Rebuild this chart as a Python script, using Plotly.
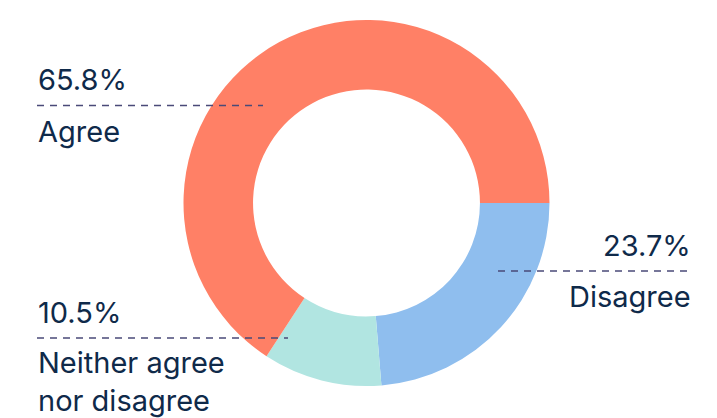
import plotly.graph_objects as go

# Survey responses
labels = ["Disagree", "Neither agree nor disagree", "Agree"]
values = [23.7, 10.5, 65.8]
colors = ["#8FBEEE", "#B1E5E1", "#FF8066"]

W, H = 717, 418
TEXT = "#0F2A4A"
DASH = "#4A4A78"
FONT = "Inter"
SIZE = 29


def px(x):
    return x / W


def py(y):
    return 1 - y / H


fig = go.Figure(
    go.Pie(
        labels=labels,
        values=values,
        marker=dict(colors=colors, line=dict(width=0)),
        hole=0.62,
        sort=False,
        direction="clockwise",
        rotation=90,
        textinfo="none",
        hoverinfo="label+percent",
        domain=dict(x=[px(183.5), px(549.5)], y=[py(386), py(20)]),
        showlegend=False,
    )
)

# Callouts: (percent text, label text, x, align, percent centre y, line y, label centre y, line x0, line x1)
callouts = [
    ("65.8%", "Agree", 36, "left", 79, 105.5, 131, 37, 263),
    ("23.7%", "Disagree", 693, "right", 245, 271, 296, 498, 693),
    ("10.5%", "Neither agree<br>nor disagree", 36, "left", 312, 338, 381, 37, 288),
]

annotations = []
shapes = []
for pct, lab, x, align, yp, yl, ylab, x0, x1 in callouts:
    annotations.append(dict(
        text=pct, x=px(x), y=py(yp), xref="paper", yref="paper",
        xanchor=align, yanchor="middle", align=align, showarrow=False,
        font=dict(family=FONT, size=SIZE, color=TEXT),
    ))
    annotations.append(dict(
        text=lab, x=px(x), y=py(ylab), xref="paper", yref="paper",
        xanchor=align, yanchor="middle", align=align, showarrow=False,
        font=dict(family=FONT, size=SIZE, color=TEXT),
    ))
    shapes.append(dict(
        type="line", xref="paper", yref="paper",
        x0=px(x0), x1=px(x1), y0=py(yl), y1=py(yl),
        line=dict(color=DASH, width=1.5, dash="7px,6px"),
    ))

fig.update_layout(
    width=W, height=H,
    margin=dict(l=0, r=0, t=0, b=0),
    paper_bgcolor="white",
    plot_bgcolor="white",
    annotations=annotations,
    shapes=shapes,
)

fig.write_html("out.html")
